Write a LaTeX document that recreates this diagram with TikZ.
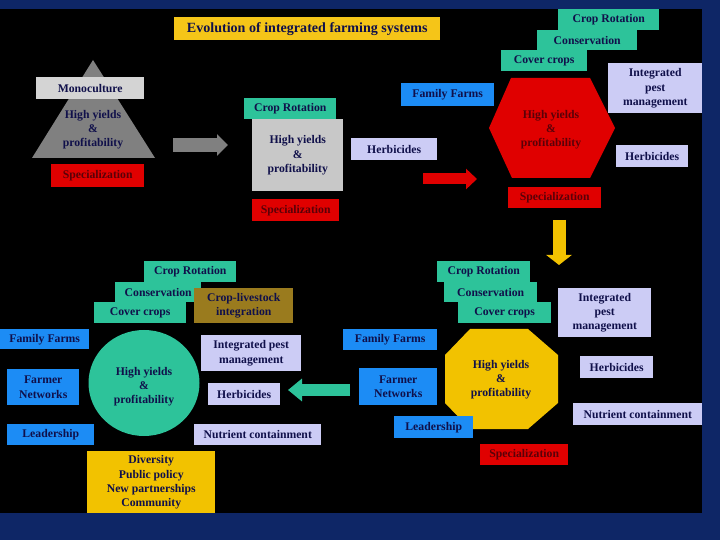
\documentclass[tikz,border=0pt]{standalone}
\usepackage{fontspec}
\setmainfont{Liberation Serif}
\usepackage{tikz}
\usepackage{xcolor}
\usetikzlibrary{arrows.meta, positioning}
\definecolor{Navy_BG}{HTML}{0E2666}
\definecolor{Ink}{HTML}{10104A}
\definecolor{Ink_Red}{HTML}{5A0008}
\definecolor{Title_Gold}{HTML}{F5C518}
\definecolor{Sys_Gold}{HTML}{F2C200}
\definecolor{Sys_Teal}{HTML}{2DC39A}
\definecolor{Sys_Lilac}{HTML}{CCCCF5}
\definecolor{Sys_Blue}{HTML}{1C8CF5}
\definecolor{Sys_Red}{HTML}{E00000}
\definecolor{Sys_Olive}{HTML}{9A7B1E}
\definecolor{Tri_Gray}{HTML}{808080}
\definecolor{Mono_Gray}{HTML}{D4D4D4}
\definecolor{Box_Gray}{HTML}{C8C8C8}

\tikzset{
  wh/.style 2 args={minimum width=#1*0.03cm, minimum height=#2*0.03cm},
  box/.style={anchor=north west, inner sep=0pt, align=center, text=Ink,
    font=\bfseries\fontsize{10}{12}\selectfont},
  label/.style={inner sep=0pt, align=center, text=Ink,
    font=\bfseries\fontsize{10}{12}\selectfont},
  teal/.style={box, fill=Sys_Teal},
  lilac/.style={box, fill=Sys_Lilac},
  blue/.style={box, fill=Sys_Blue},
  spec/.style={box, fill=Sys_Red, text=Ink_Red}
}

\begin{document}
\begin{tikzpicture}[x=0.03cm, y=-0.03cm]
  \useasboundingbox (0,0) rectangle (720,540);
  \fill[Navy_BG] (0,0) rectangle (720,540);
  \fill[black] (0,9) rectangle (702,513);

  % Title
  \node[box, fill=Title_Gold, wh={266}{23}, font=\bfseries\fontsize{12}{14}\selectfont]
    (title) at (174,17) {Evolution of integrated farming systems};

  % Stage 1: monoculture triangle
  \fill[Tri_Gray] (32,158) -- (93,60) -- (155,158) -- cycle;
  \node[box, fill=Mono_Gray, wh={108}{22}] (mono) at (36,77) {Monoculture};
  \node[label] (yield1) at (93,130) {High yields\\\&\\profitability};
  \node[spec, wh={93}{23}] (spec1) at (51,164) {Specialization};

  \coordinate (ga) at (173,145);
  \coordinate (gb) at (228,145);
  \draw[Tri_Gray, line width=0.42cm, -{Triangle[length=0.33cm, width=0.63cm]}] (ga) -- (gb);

  % Stage 2: crop rotation
  \node[teal, wh={92}{21}] (rot2) at (244,98) {Crop Rotation};
  \node[box, fill=Box_Gray, wh={91}{72}] (yield2) at (252,119) {High yields\\\&\\profitability};
  \node[spec, wh={87}{22}] (spec2) at (252,199) {Specialization};
  \node[lilac, wh={86}{22}] (herb2) at (351,138) {Herbicides};

  \coordinate (ra) at (423,179);
  \coordinate (rb) at (477,179);
  \draw[Sys_Red, line width=0.33cm, -{Triangle[length=0.33cm, width=0.6cm]}] (ra) -- (rb);

  % Stage 3: hexagon
  \node[teal, wh={101}{21}] (rot3) at (558,9) {Crop Rotation};
  \node[teal, wh={100}{20}] (cons3) at (537,30) {Conservation};
  \node[teal, wh={86}{21}] (cover3) at (501,50) {Cover crops};
  \node[blue, wh={93}{23}] (fam3) at (401,83) {Family Farms};
  \fill[Sys_Red] (489,128) -- (511,78) -- (590,78) -- (615,128) -- (590,178) -- (512,178) -- cycle;
  \node[label, text=Ink_Red] (yield3) at (551,130) {High yields\\\&\\profitability};
  \node[lilac, wh={94}{50}] (ipm3) at (608,63) {Integrated\\pest\\management};
  \node[lilac, wh={72}{22}] (herb3) at (616,145) {Herbicides};
  \node[spec, wh={93}{21}] (spec3) at (508,187) {Specialization};

  \coordinate (ya) at (559,220);
  \coordinate (yb) at (559,265);
  \draw[Sys_Gold, line width=0.39cm, -{Triangle[length=0.3cm, width=0.75cm]}] (ya) -- (yb);

  % Stage 4: octagon
  \node[teal, wh={93}{21}] (rot4) at (437,261) {Crop Rotation};
  \node[teal, wh={93}{20}] (cons4) at (444,282) {Conservation};
  \node[teal, wh={93}{21}] (cover4) at (458,302) {Cover crops};
  \node[lilac, wh={93}{49}] (ipm4) at (558,288) {Integrated\\pest\\management};
  \node[blue, wh={94}{21}] (fam4) at (343,329) {Family Farms};
  \node[blue, wh={78}{37}] (net4) at (359,368) {Farmer\\Networks};
  \fill[Sys_Gold] (470,329) -- (528,329) -- (558,355) -- (558,403) -- (528,429)
    -- (470,429) -- (445,403) -- (445,355) -- cycle;
  \node[label] (yield4) at (501,380) {High yields\\\&\\profitability};
  \node[lilac, wh={73}{22}] (herb4) at (580,356) {Herbicides};
  \node[lilac, wh={129}{22}] (nut4) at (573,403) {Nutrient containment};
  \node[blue, wh={79}{22}] (lead4) at (394,416) {Leadership};
  \node[spec, wh={88}{21}] (spec4) at (480,444) {Specialization};

  \coordinate (ta) at (350,390);
  \coordinate (tb) at (288,390);
  \draw[Sys_Teal, line width=0.36cm, -{Triangle[length=0.42cm, width=0.66cm]}] (ta) -- (tb);

  % Stage 5: circle
  \node[teal, wh={92}{21}] (rot5) at (144,261) {Crop Rotation};
  \node[teal, wh={86}{20}] (cons5) at (115,282) {Conservation};
  \node[teal, wh={92}{21}] (cover5) at (94,302) {Cover crops};
  \node[box, fill=Sys_Olive, wh={99}{35}] (mix5) at (194,288) {Crop-livestock\\integration};
  \node[blue, wh={89}{20}] (fam5) at (0,329) {Family Farms};
  \node[blue, wh={72}{36}] (net5) at (7,369) {Farmer\\Networks};
  \node[blue, wh={87}{21}] (lead5) at (7,424) {Leadership};
  \fill[Sys_Teal] (144,383) ellipse [x radius=55.5, y radius=53];
  \node[label] (yield5) at (144,387) {High yields\\\&\\profitability};
  \node[lilac, wh={100}{36}] (ipm5) at (201,335) {Integrated pest\\management};
  \node[lilac, wh={72}{22}] (herb5) at (208,383) {Herbicides};
  \node[lilac, wh={127}{21}] (nut5) at (194,424) {Nutrient containment};
  \node[box, fill=Sys_Gold, wh={128}{62}] (div5) at (87,451)
    {Diversity\\Public policy\\New partnerships\\Community};
\end{tikzpicture}
\end{document}
